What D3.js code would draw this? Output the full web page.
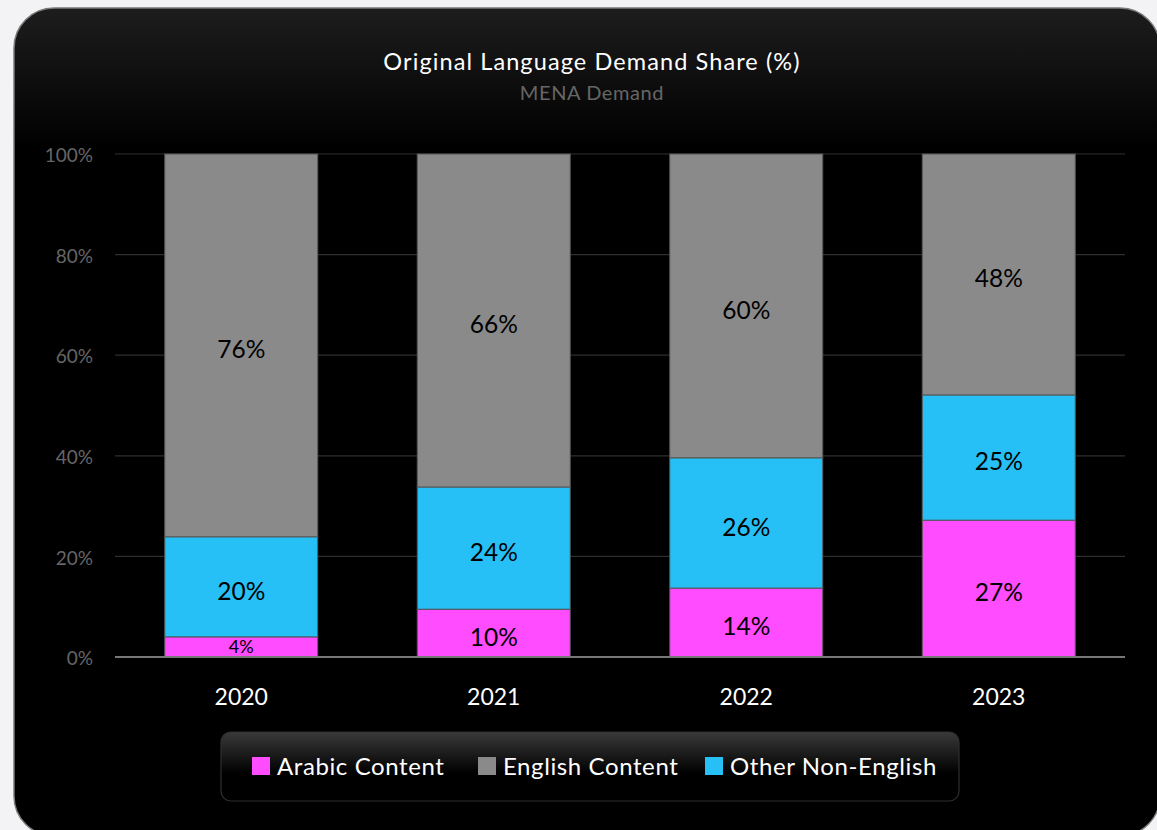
<!DOCTYPE html>
<html><head><meta charset="utf-8">
<script src="https://cdn.jsdelivr.net/npm/d3@7"></script>
<style>
html,body{margin:0;padding:0;background:#f3f3f5;}
svg{display:block;font-family:Lato,"Open Sans",sans-serif;}
</style></head>
<body>
<svg id="chart" width="1157" height="830"></svg>
<script>
const years = ["2020","2021","2022","2023"];
const seriesNames = ["Arabic Content","Other Non-English","English Content"];
const arabic = [4.0, 9.5, 13.7, 27.2];
const otherNonEnglish = [19.9, 24.3, 25.9, 24.9];
const english = [76.1, 66.2, 60.4, 47.9];
const yTicks = [0,20,40,60,80,100];
const legendOrder = ["Arabic Content","English Content","Other Non-English"];
const colors = {"Arabic Content":"#ff4cff","English Content":"#8a8a8a","Other Non-English":"#26c0f7"};

const rows = years.map((y,i)=>({year:y,"Arabic Content":arabic[i],"Other Non-English":otherNonEnglish[i],"English Content":english[i]}));

const svg = d3.select("#chart");
const defs = svg.append("defs");
const g1 = defs.append("linearGradient").attr("id","cardGrad").attr("x1",0).attr("y1",0).attr("x2",0).attr("y2",1);
g1.append("stop").attr("offset","0").attr("stop-color","#1d1d1d");
g1.append("stop").attr("offset","0.17").attr("stop-color","#000");
g1.append("stop").attr("offset","1").attr("stop-color","#000");
const g2 = defs.append("linearGradient").attr("id","legGrad").attr("x1",0).attr("y1",0).attr("x2",0).attr("y2",1);
g2.append("stop").attr("offset","0").attr("stop-color","#3a3a3a");
g2.append("stop").attr("offset","0.6").attr("stop-color","#000");
g2.append("stop").attr("offset","1").attr("stop-color","#000");

svg.append("rect").attr("x",14).attr("y",8).attr("width",1146).attr("height",828)
  .attr("rx",40).attr("fill","url(#cardGrad)").attr("stroke","#7a7a7a").attr("stroke-width",1.5);

svg.append("text").attr("x",592).attr("y",70).attr("text-anchor","middle")
  .attr("fill","#fff").attr("font-size",23.5).attr("letter-spacing",1.1).text("Original Language Demand Share (%)");
svg.append("text").attr("x",592).attr("y",100).attr("text-anchor","middle")
  .attr("fill","#666").attr("font-size",20).attr("letter-spacing",0.6).text("MENA Demand");

const x = d3.scaleBand().domain(years).range([115,1125]).paddingInner(0.394).paddingOuter(0.197);
const y = d3.scaleLinear().domain([0,100]).range([657,154]);

const grid = svg.append("g");
grid.selectAll("line").data(yTicks.filter(t=>t>0)).join("line")
  .attr("x1",115).attr("x2",1125).attr("y1",d=>y(d)).attr("y2",d=>y(d))
  .attr("stroke","#2e2e2e").attr("stroke-width",1.2);

const yAxis = svg.append("g").attr("transform","translate(93,0)")
  .call(d3.axisLeft(y).tickValues(yTicks).tickSize(0).tickPadding(0).tickFormat(d=>d+"%"));
yAxis.select(".domain").remove();
yAxis.selectAll("text").attr("fill","#666").attr("font-size",19).attr("dy","0.4em").attr("font-family","Lato,sans-serif");

const stack = d3.stack().keys(seriesNames)(rows);
const layers = svg.append("g").selectAll("g").data(stack).join("g")
  .attr("fill",d=>colors[d.key]);
layers.selectAll("rect").data(d=>d).join("rect")
  .attr("x",d=>x(d.data.year)).attr("width",x.bandwidth())
  .attr("y",d=>y(d[1])).attr("height",d=>y(d[0])-y(d[1]))
  .attr("stroke","#555").attr("stroke-width",1);

const labels = svg.append("g");
stack.forEach(layer=>{
  layer.forEach(d=>{
    const h = y(d[0])-y(d[1]);
    const v = d[1]-d[0];
    const small = h<30;
    labels.append("text")
      .attr("x",x(d.data.year)+x.bandwidth()/2)
      .attr("y",(y(d[0])+y(d[1]))/2 + (small?0:4))
      .attr("dy","0.36em").attr("text-anchor","middle")
      .attr("fill","#000").attr("font-size",small?18:24.5)
      .text(Math.round(v)+"%");
  });
});

svg.append("line").attr("x1",115).attr("x2",1125).attr("y1",y(0)).attr("y2",y(0))
  .attr("stroke","#777").attr("stroke-width",2);

const xAxis = svg.append("g").attr("transform","translate(0,697)")
  .call(d3.axisBottom(x).tickSize(0).tickPadding(0));
xAxis.select(".domain").remove();
xAxis.selectAll("text").attr("fill","#fff").attr("font-size",23).attr("dy","0.36em").attr("font-family","Lato,sans-serif");

// legend
svg.append("rect").attr("x",221).attr("y",732).attr("width",738).attr("height",69).attr("rx",10)
  .attr("fill","url(#legGrad)").attr("stroke","#2f2f2f").attr("stroke-width",1.2);
const legX = [252,478,705];
const leg = svg.append("g").selectAll("g").data(legendOrder).join("g")
  .attr("transform",(d,i)=>`translate(${legX[i]},757)`);
leg.append("rect").attr("width",18).attr("height",18).attr("fill",d=>colors[d]);
leg.append("text").attr("x",25).attr("y",9).attr("dy","0.36em").attr("fill","#fff").attr("font-size",24).attr("letter-spacing",0.6).text(d=>d);
</script>
</body></html>
